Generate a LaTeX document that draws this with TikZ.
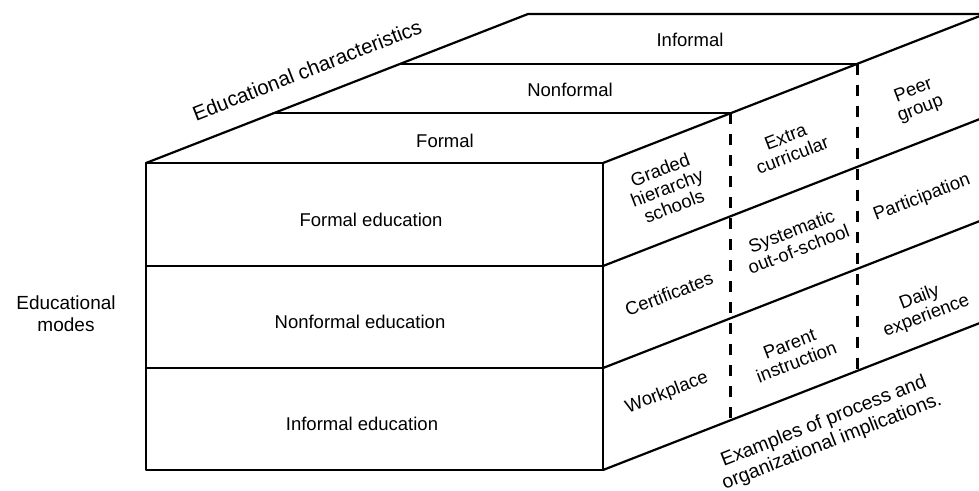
\documentclass[tikz,border=0pt]{standalone}
\usepackage{fontspec}
\setmainfont{Liberation Sans}
\begin{document}
\begin{tikzpicture}[x=1pt,y=-1pt,
  edge/.style={line width=2.2pt, line join=round, line cap=round},
  sidedash/.style={line width=3.2pt, dash pattern=on 11pt off 10pt},
  lbl/.style={font=\fontsize{18.5}{19.5}\selectfont, align=center, inner sep=0pt},
  slant/.style={lbl, rotate=21}]
\useasboundingbox (0,0) rectangle (979,490);
% corners
\coordinate (ftl) at (146,163);
\coordinate (ftr) at (603,163);
\coordinate (fbr) at (603,470);
\coordinate (fbl) at (146,470);
\coordinate (r1l) at (146,266);
\coordinate (r1r) at (603,266);
\coordinate (r2l) at (146,368);
\coordinate (r2r) at (603,368);
\coordinate (btl) at (528,14);
\coordinate (btr) at (985,14);
\coordinate (bbr) at (985,321);
\coordinate (b1r) at (985,117);
\coordinate (b2r) at (985,219);
\coordinate (t1l) at (273.3,113.3);
\coordinate (t1r) at (730.3,113.3);
\coordinate (t2l) at (400.7,63.7);
\coordinate (t2r) at (857.7,63.7);
\coordinate (d1b) at (730.3,420.3);
\coordinate (d2b) at (857.7,370.7);
% front face
\draw[edge] (ftl) -- (ftr) -- (fbr) -- (fbl) -- cycle;
\draw[edge] (r1l) -- (r1r);
\draw[edge] (r2l) -- (r2r);
% top face
\draw[edge] (ftl) -- (btl) -- (btr);
\draw[edge] (ftr) -- (btr);
\draw[edge] (t1l) -- (t1r);
\draw[edge] (t2l) -- (t2r);
% side face
\draw[edge] (r1r) -- (b1r);
\draw[edge] (r2r) -- (b2r);
\draw[edge] (fbr) -- (bbr);
\draw[edge] (btr) -- (bbr);
\draw[sidedash] (t1r) -- (d1b);
\draw[sidedash] (t2r) -- (d2b);
% top labels
\node[lbl] (tf) at (445,141) {Formal};
\node[lbl] (tn) at (570,90) {Nonformal};
\node[lbl] (ti) at (690,40) {Informal};
\node[lbl, rotate=21.3, font=\fontsize{20.5}{22}\selectfont] (ec) at (307,70) {Educational characteristics};
% front labels
\node[lbl] (fe) at (371,220) {Formal education};
\node[lbl] (ne) at (360,322) {Nonformal education};
\node[lbl] (ie) at (362,424) {Informal education};
\node[lbl, font=\fontsize{19}{22}\selectfont] (em) at (66,314) {Educational\\modes};
% side labels
\node[slant] (s11) at (667,188) {Graded\\hierarchy\\schools};
\node[slant] (s12) at (789,146) {Extra\\curricular};
\node[slant] (s13) at (917,100) {Peer\\group};
\node[slant] (s21) at (669,294) {Certificates};
\node[slant] (s22) at (795,240) {Systematic\\out-of-school};
\node[slant] (s23) at (922,198) {Participation};
\node[slant] (s31) at (667,393) {Workplace};
\node[slant] (s32) at (793,353) {Parent\\instruction};
\node[slant] (s33) at (923,307) {Daily\\experience};
\node[lbl, rotate=21.5, font=\fontsize{19.5}{22}\selectfont] (ex) at (828,432) {Examples of process and\\organizational implications.};
\end{tikzpicture}
\end{document}
